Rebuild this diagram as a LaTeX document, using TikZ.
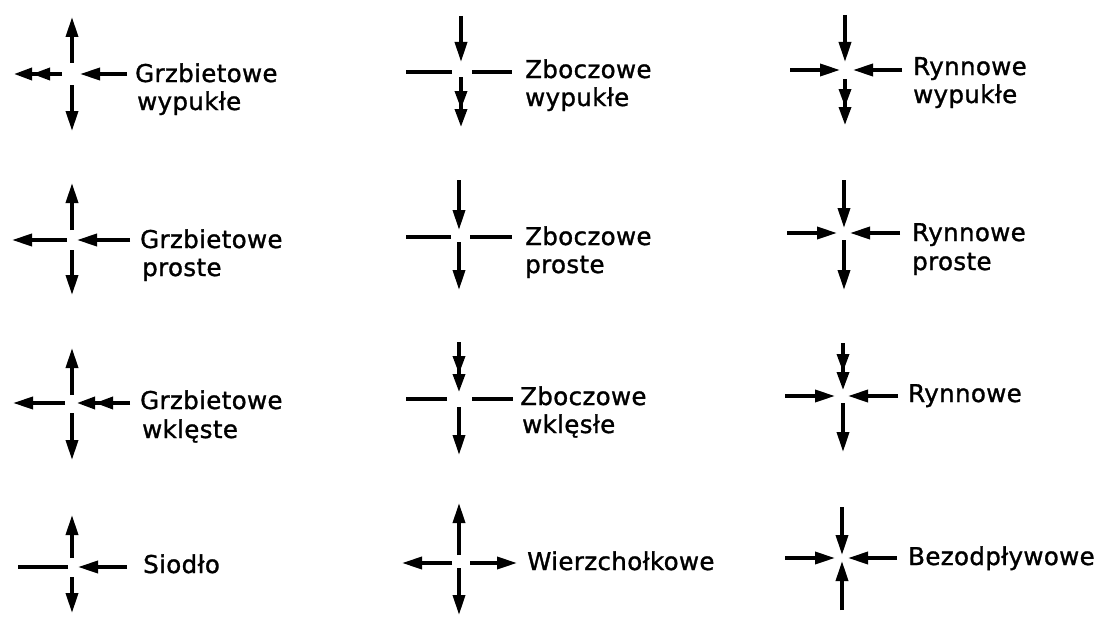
\documentclass[tikz,border=0pt]{standalone}
\usepackage{fontspec}
\newfontfamily\labfont{DejaVu Sans}[LetterSpace=1.5,FakeBold=1.2]
\usetikzlibrary{arrows.meta}
\tikzset{
 arm/.style={line width=3.4pt},
 onehead/.style={-{Triangle[length=20pt,width=12pt]}},
 twohead/.style={-{Triangle[length=18pt,width=12pt]Triangle[length=18pt,width=12pt]}},
 lab/.style={anchor=base west,inner sep=0pt,font=\labfont\fontsize{24.5}{28}\selectfont}
}
\begin{document}
\begin{tikzpicture}[x=1pt,y=-1pt]
\fill[white] (0,0) rectangle (1108,618);
\useasboundingbox (0,0) rectangle (1108,618);
% ---------- cell 1: Grzbietowe wypukle
\path (72,63) coordinate (a1ui) (72,17) coordinate (a1uo)
      (72,85) coordinate (a1di) (72,131) coordinate (a1do)
      (62,74) coordinate (a1li) (14,74) coordinate (a1lo)
      (80,74) coordinate (a1ri) (127,74) coordinate (a1ro);
\draw[arm,onehead] (a1ui) -- (a1uo);
\draw[arm,onehead] (a1di) -- (a1do);
\draw[arm,twohead] (a1li) -- (a1lo);
\draw[arm,onehead] (a1ro) -- (a1ri);
\node[lab] (t1a) at (135,82) {Grzbietowe};
\node[lab] (t1b) at (137,110) {wypukłe};
% ---------- cell 2: Zboczowe wypukle
\path (461,62) coordinate (a2ui) (461,16) coordinate (a2uo)
      (461,77) coordinate (a2di) (461,127) coordinate (a2do)
      (452,72) coordinate (a2li) (406,72) coordinate (a2lo)
      (472,72) coordinate (a2ri) (512,72) coordinate (a2ro);
\draw[arm,onehead] (a2uo) -- (a2ui);
\draw[arm,twohead] (a2di) -- (a2do);
\draw[arm] (a2li) -- (a2lo);
\draw[arm] (a2ri) -- (a2ro);
\node[lab] (t2a) at (525,78) {Zboczowe};
\node[lab] (t2b) at (525,106) {wypukłe};
% ---------- cell 3: Rynnowe wypukle
\path (845,62) coordinate (a3ui) (845,15) coordinate (a3uo)
      (845,79) coordinate (a3di) (845,125) coordinate (a3do)
      (840,70) coordinate (a3li) (790,70) coordinate (a3lo)
      (853,70) coordinate (a3ri) (902,70) coordinate (a3ro);
\draw[arm,onehead] (a3uo) -- (a3ui);
\draw[arm,twohead] (a3di) -- (a3do);
\draw[arm,onehead] (a3lo) -- (a3li);
\draw[arm,onehead] (a3ro) -- (a3ri);
\node[lab] (t3a) at (913,75) {Rynnowe};
\node[lab] (t3b) at (913,103) {wypukłe};
% ---------- cell 4: Grzbietowe proste
\path (72,230) coordinate (a4ui) (72,183) coordinate (a4uo)
      (72,250) coordinate (a4di) (72,295) coordinate (a4do)
      (67,240) coordinate (a4li) (12,240) coordinate (a4lo)
      (77,240) coordinate (a4ri) (130,240) coordinate (a4ro);
\draw[arm,onehead] (a4ui) -- (a4uo);
\draw[arm,onehead] (a4di) -- (a4do);
\draw[arm,onehead] (a4li) -- (a4lo);
\draw[arm,onehead] (a4ro) -- (a4ri);
\node[lab] (t4a) at (140,248) {Grzbietowe};
\node[lab] (t4b) at (142,276) {proste};
% ---------- cell 5: Zboczowe proste
\path (459,230) coordinate (a5ui) (459,180) coordinate (a5uo)
      (459,242) coordinate (a5di) (459,290) coordinate (a5do)
      (451,237) coordinate (a5li) (406,237) coordinate (a5lo)
      (470,237) coordinate (a5ri) (512,237) coordinate (a5ro);
\draw[arm,onehead] (a5uo) -- (a5ui);
\draw[arm,onehead] (a5di) -- (a5do);
\draw[arm] (a5li) -- (a5lo);
\draw[arm] (a5ri) -- (a5ro);
\node[lab] (t5a) at (525,245) {Zboczowe};
\node[lab] (t5b) at (525,273) {proste};
% ---------- cell 6: Rynnowe proste
\path (844,228) coordinate (a6ui) (844,180) coordinate (a6uo)
      (844,240) coordinate (a6di) (844,290) coordinate (a6do)
      (837,233) coordinate (a6li) (787,233) coordinate (a6lo)
      (850,233) coordinate (a6ri) (900,233) coordinate (a6ro);
\draw[arm,onehead] (a6uo) -- (a6ui);
\draw[arm,onehead] (a6di) -- (a6do);
\draw[arm,onehead] (a6lo) -- (a6li);
\draw[arm,onehead] (a6ro) -- (a6ri);
\node[lab] (t6a) at (912,241) {Rynnowe};
\node[lab] (t6b) at (912,270) {proste};
% ---------- cell 7: Grzbietowe wklesle
\path (72,395) coordinate (a7ui) (72,348) coordinate (a7uo)
      (72,413) coordinate (a7di) (72,460) coordinate (a7do)
      (65,403) coordinate (a7li) (13,403) coordinate (a7lo)
      (77,403) coordinate (a7ri) (130,403) coordinate (a7ro);
\draw[arm,onehead] (a7ui) -- (a7uo);
\draw[arm,onehead] (a7di) -- (a7do);
\draw[arm,onehead] (a7li) -- (a7lo);
\draw[arm,twohead] (a7ro) -- (a7ri);
\node[lab] (t7a) at (140,409) {Grzbietowe};
\node[lab] (t7b) at (142,438) {wklęste};
% ---------- cell 8: Zboczowe wklesle
\path (459,392) coordinate (a8ui) (459,342) coordinate (a8uo)
      (459,407) coordinate (a8di) (459,455) coordinate (a8do)
      (447,399) coordinate (a8li) (406,399) coordinate (a8lo)
      (472,399) coordinate (a8ri) (513,399) coordinate (a8ro);
\draw[arm,twohead] (a8uo) -- (a8ui);
\draw[arm,onehead] (a8di) -- (a8do);
\draw[arm] (a8li) -- (a8lo);
\draw[arm] (a8ri) -- (a8ro);
\node[lab] (t8a) at (520,405) {Zboczowe};
\node[lab] (t8b) at (522,433) {wklęsłe};
% ---------- cell 9: Rynnowe
\path (843,390) coordinate (a9ui) (843,343) coordinate (a9uo)
      (843,403) coordinate (a9di) (843,452) coordinate (a9do)
      (835,396) coordinate (a9li) (785,396) coordinate (a9lo)
      (848,396) coordinate (a9ri) (898,396) coordinate (a9ro);
\draw[arm,twohead] (a9uo) -- (a9ui);
\draw[arm,onehead] (a9di) -- (a9do);
\draw[arm,onehead] (a9lo) -- (a9li);
\draw[arm,onehead] (a9ro) -- (a9ri);
\node[lab] (t9a) at (908,402) {Rynnowe};
% ---------- cell 10: Siodlo
\path (72,558) coordinate (a10ui) (72,515) coordinate (a10uo)
      (72,577) coordinate (a10di) (72,613) coordinate (a10do)
      (68,567) coordinate (a10li) (18,567) coordinate (a10lo)
      (78,567) coordinate (a10ri) (127,567) coordinate (a10ro);
\draw[arm,onehead] (a10ui) -- (a10uo);
\draw[arm,onehead] (a10di) -- (a10do);
\draw[arm] (a10li) -- (a10lo);
\draw[arm,onehead] (a10ro) -- (a10ri);
\node[lab] (t10a) at (143,573) {Siodło};
% ---------- cell 11: Wierzcholkowe
\path (459,555) coordinate (a11ui) (459,503) coordinate (a11uo)
      (459,568) coordinate (a11di) (459,615) coordinate (a11do)
      (452,563) coordinate (a11li) (402,563) coordinate (a11lo)
      (470,563) coordinate (a11ri) (517,563) coordinate (a11ro);
\draw[arm,onehead] (a11ui) -- (a11uo);
\draw[arm,onehead] (a11di) -- (a11do);
\draw[arm,onehead] (a11li) -- (a11lo);
\draw[arm,onehead] (a11ri) -- (a11ro);
\node[lab] (t11a) at (527,570) {Wierzchołkowe};
% ---------- cell 12: Bezodplywowe
\path (842,555) coordinate (a12ui) (842,507) coordinate (a12uo)
      (842,561) coordinate (a12di) (842,610) coordinate (a12do)
      (835,558) coordinate (a12li) (785,558) coordinate (a12lo)
      (848,558) coordinate (a12ri) (897,558) coordinate (a12ro);
\draw[arm,onehead] (a12uo) -- (a12ui);
\draw[arm,onehead] (a12do) -- (a12di);
\draw[arm,onehead] (a12lo) -- (a12li);
\draw[arm,onehead] (a12ro) -- (a12ri);
\node[lab] (t12a) at (908,565) {Bezodpływowe};
\end{tikzpicture}
\end{document}
